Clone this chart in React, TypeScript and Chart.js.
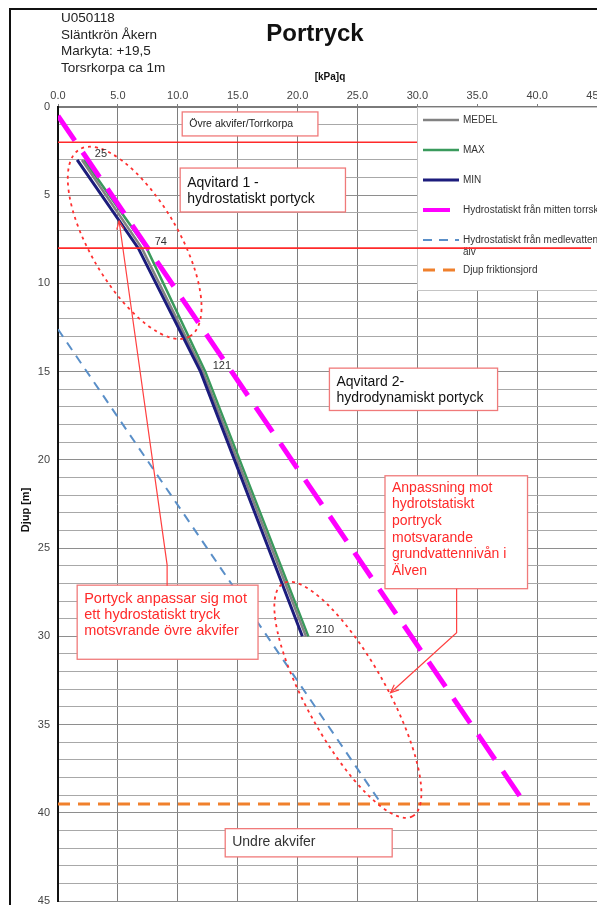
import React, { useEffect, useRef } from "react";
import { Chart, registerables } from "chart.js";

Chart.register(...registerables);

// ---------- data ----------
const depthsM = [3, 8, 15, 30];
const medelKpa = [2.0, 7.0, 12.1, 20.7];
const maxKpa = [2.2, 7.4, 12.3, 20.9];
const minKpa = [1.6, 6.7, 11.9, 20.4];
const pointLabels = ["25", "74", "121", "210"];

const hydroMittenKpa = [0, 39];
const hydroMittenDepth = [0.5, 39.5];
const hydroAlvKpa = [0, 27];
const hydroAlvDepth = [12.6, 39.5];
const friktionKpa = [0, 45];
const friktionDepth = [39.5, 39.5];

const layerBoundaryDepths = [2, 8];

const seriesNames = [
  "MEDEL",
  "MAX",
  "MIN",
  "Hydrostatiskt från mitten torrskorpan",
  "Hydrostatiskt från medlevattennivå i älv",
  "Djup friktionsjord",
];

const headerLines = ["U050118", "Släntkrön Åkern", "Markyta: +19,5", "Torsrkorpa ca 1m"];
const chartTitle = "Portryck";
const xAxisTitle = "[kPa]q";
const yAxisTitle = "Djup [m]";

const noteOvre = ["Övre akvifer/Torrkorpa"];
const noteAqv1 = ["Aqvitard 1 -", "hydrostatiskt portyck"];
const noteAqv2 = ["Aqvitard 2-", "hydrodynamiskt portyck"];
const noteAnpassning = [
  "Anpassning mot",
  "hydrotstatiskt",
  "portryck",
  "motsvarande",
  "grundvattennivån i",
  "Älven",
];
const notePortyck = ["Portyck anpassar sig mot", "ett hydrostatiskt tryck", "motsvrande övre akvifer"];
const noteUndre = ["Undre akvifer"];

// ---------- styling / annotation geometry (in axis units) ----------
const FONT = '"Liberation Sans", Arial, Helvetica, sans-serif';
const RED = "#ff2a2a";

const noteBoxes = [
  { x1: 10.37, y1: 0.28, x2: 21.7, y2: 1.64, lines: noteOvre, color: "#222", size: 10.5, lh: 14, off: 12 },
  { x1: 10.2, y1: 3.46, x2: 24.0, y2: 5.95, lines: noteAqv1, color: "#111", size: 14, lh: 16, off: 15 },
  { x1: 22.66, y1: 14.8, x2: 36.7, y2: 17.2, lines: noteAqv2, color: "#111", size: 14, lh: 16, off: 14 },
  { x1: 27.3, y1: 20.9, x2: 39.2, y2: 27.3, lines: noteAnpassning, color: RED, size: 14, lh: 16.7, off: 12 },
  { x1: 1.6, y1: 27.1, x2: 16.7, y2: 31.3, lines: notePortyck, color: RED, size: 14.5, lh: 16, off: 14 },
  { x1: 13.96, y1: 40.9, x2: 27.9, y2: 42.5, lines: noteUndre, color: "#333", size: 14, lh: 16, off: 13 },
];

const ellipses = [
  { ax: 1.8, ay: 2.4, bx: 11.0, by: 13.0, minor: 44 },
  { ax: 18.8, ay: 27.0, bx: 29.6, by: 40.2, minor: 40 },
];

const arrows = [
  [
    [9.11, 27.14],
    [9.11, 25.95],
    [5.1, 6.46],
  ],
  [
    [33.28, 27.31],
    [33.28, 29.8],
    [27.76, 33.2],
  ],
];

const overlayPlugin = {
  id: "overlay",
  afterDatasetsDraw(chart: any) {
    const ctx: CanvasRenderingContext2D = chart.ctx;
    const xs = chart.scales.x;
    const ys = chart.scales.y;
    const X = (v: number) => xs.getPixelForValue(v);
    const Y = (v: number) => ys.getPixelForValue(v);

    const hline = (depth: number, x0: number, x1: number) => {
      ctx.save();
      ctx.strokeStyle = RED;
      ctx.lineWidth = 1.6;
      ctx.beginPath();
      ctx.moveTo(X(x0), Y(depth));
      ctx.lineTo(X(x1), Y(depth));
      ctx.stroke();
      ctx.restore();
    };

    // upper boundary (under legend)
    hline(layerBoundaryDepths[0], 0, 45);

    // note boxes
    for (const b of noteBoxes) {
      const l = X(b.x1),
        t = Y(b.y1),
        r = X(b.x2),
        bt = Y(b.y2);
      ctx.save();
      ctx.fillStyle = "#fff";
      ctx.fillRect(l, t, r - l, bt - t);
      ctx.strokeStyle = "#f07a7a";
      ctx.lineWidth = 1.3;
      ctx.strokeRect(l, t, r - l, bt - t);
      ctx.fillStyle = b.color;
      ctx.font = `${b.size}px ${FONT}`;
      ctx.textAlign = "left";
      ctx.textBaseline = "middle";
      b.lines.forEach((s, i) => ctx.fillText(s, l + 7, t + b.off + i * b.lh));
      ctx.restore();
    }

    // legend
    const ds = chart.data.datasets;
    const lgL = 409,
      lgT = 99,
      lgB = 282;
    ctx.save();
    ctx.fillStyle = "#fff";
    ctx.fillRect(lgL, lgT, chart.width - lgL + 5, lgB - lgT);
    ctx.strokeStyle = "#c4c4c4";
    ctx.lineWidth = 1;
    ctx.strokeRect(lgL + 0.5, lgT + 0.5, chart.width, lgB - lgT);
    const rows = [112, 142, 172, 202, 232, 262];
    ctx.font = `10px ${FONT}`;
    ctx.textBaseline = "middle";
    seriesNames.forEach((name, i) => {
      const d = ds[i];
      const y = rows[i];
      ctx.save();
      ctx.strokeStyle = d.borderColor;
      ctx.lineWidth = Math.min(d.borderWidth, 4);
      ctx.setLineDash(d.borderDash || []);
      ctx.beginPath();
      ctx.moveTo(415, y);
      ctx.lineTo(i === 3 ? 442 : 451, y);
      ctx.stroke();
      ctx.restore();
      ctx.fillStyle = "#333";
      if (i === 4) {
        ctx.fillText("Hydrostatiskt från medlevattennivå i", 455, y);
        ctx.fillText("älv", 455, y + 12);
      } else {
        ctx.fillText(name, 455, y);
      }
    });
    ctx.restore();

    // lower boundary (over legend)
    hline(layerBoundaryDepths[1], 0, 44.5);

    // dotted ellipses
    ctx.save();
    ctx.strokeStyle = "#ff3030";
    ctx.lineWidth = 1.8;
    ctx.setLineDash([3, 4]);
    for (const e of ellipses) {
      const ax = X(e.ax),
        ay = Y(e.ay),
        bx = X(e.bx),
        by = Y(e.by);
      const cx = (ax + bx) / 2,
        cy = (ay + by) / 2;
      const a = Math.hypot(bx - ax, by - ay) / 2;
      const rot = Math.atan2(by - ay, bx - ax);
      ctx.beginPath();
      ctx.ellipse(cx, cy, a, e.minor, rot, 0, Math.PI * 2);
      ctx.stroke();
    }
    ctx.restore();

    // arrows
    ctx.save();
    ctx.strokeStyle = "#ff4040";
    ctx.lineWidth = 1.2;
    for (const pts of arrows) {
      ctx.beginPath();
      pts.forEach((p, i) => {
        const px = X(p[0]),
          py = Y(p[1]);
        if (i === 0) ctx.moveTo(px, py);
        else ctx.lineTo(px, py);
      });
      ctx.stroke();
      const n = pts.length;
      const tx = X(pts[n - 1][0]),
        ty = Y(pts[n - 1][1]);
      const fx = X(pts[n - 2][0]),
        fy = Y(pts[n - 2][1]);
      const ang = Math.atan2(ty - fy, tx - fx);
      ctx.beginPath();
      ctx.moveTo(tx - 9 * Math.cos(ang - 0.4), ty - 9 * Math.sin(ang - 0.4));
      ctx.lineTo(tx, ty);
      ctx.lineTo(tx - 9 * Math.cos(ang + 0.4), ty - 9 * Math.sin(ang + 0.4));
      ctx.stroke();
    }
    ctx.restore();

    // point labels
    ctx.save();
    ctx.fillStyle = "#333";
    ctx.font = `11px ${FONT}`;
    ctx.textAlign = "center";
    ctx.textBaseline = "middle";
    pointLabels.forEach((lab, i) => {
      ctx.fillText(lab, X(medelKpa[i]) + 19, Y(depthsM[i]) - 6);
    });
    ctx.restore();
  },
  afterDraw(chart: any) {
    const ctx: CanvasRenderingContext2D = chart.ctx;
    ctx.save();
    // frame
    ctx.strokeStyle = "#111";
    ctx.lineWidth = 2;
    ctx.strokeRect(2, 1, chart.width + 20, chart.height + 20);
    // header
    ctx.fillStyle = "#222";
    ctx.font = `13.5px ${FONT}`;
    ctx.textAlign = "left";
    ctx.textBaseline = "middle";
    headerLines.forEach((s, i) => ctx.fillText(s, 53, 10.5 + i * 16.6));
    // title
    ctx.textBaseline = "alphabetic";
    ctx.fillStyle = "#111";
    ctx.font = `bold 24px ${FONT}`;
    ctx.textAlign = "center";
    ctx.fillText(chartTitle, 307, 33);
    // x title
    ctx.font = `bold 10px ${FONT}`;
    ctx.fillText(xAxisTitle, 322, 72);
    // y title
    ctx.translate(18, 502);
    ctx.rotate(-Math.PI / 2);
    ctx.font = `bold 11px ${FONT}`;
    ctx.textBaseline = "middle";
    ctx.fillText(yAxisTitle, 0, 0);
    ctx.restore();
  },
};

const toPoints = (xs: number[], ys: number[]) => xs.map((x, i) => ({ x, y: ys[i] }));

export default function App() {
  const ref = useRef<HTMLCanvasElement>(null);
  useEffect(() => {
    document.documentElement.style.overflow = "hidden";
    document.body.style.overflow = "hidden";
    const common = { showLine: true, pointRadius: 0, pointHoverRadius: 0, fill: false, tension: 0 };
    const chart = new Chart(ref.current as HTMLCanvasElement, {
      type: "scatter",
      data: {
        datasets: [
          { ...common, label: seriesNames[0], data: toPoints(medelKpa, depthsM), borderColor: "#828282", borderWidth: 2.5, order: 3 },
          { ...common, label: seriesNames[1], data: toPoints(maxKpa, depthsM), borderColor: "#3a9a5c", borderWidth: 2.5, order: 4 },
          { ...common, label: seriesNames[2], data: toPoints(minKpa, depthsM), borderColor: "#1c1c7c", borderWidth: 3, order: 2 },
          { ...common, label: seriesNames[3], data: toPoints(hydroMittenKpa, hydroMittenDepth), borderColor: "#ff00ff", borderWidth: 5, borderDash: [30, 14], order: 0 },
          { ...common, label: seriesNames[4], data: toPoints(hydroAlvKpa, hydroAlvDepth), borderColor: "#5a8fc8", borderWidth: 2, borderDash: [9, 7], order: 1 },
          { ...common, label: seriesNames[5], data: toPoints(friktionKpa, friktionDepth), borderColor: "#f0802c", borderWidth: 3, borderDash: [12, 8], order: 1 },
        ] as any,
      },
      options: {
        animation: false,
        responsive: false,
        devicePixelRatio: 1,
        events: [],
        layout: { padding: { left: 0, top: 0, right: 91, bottom: 4 } },
        plugins: { legend: { display: false }, tooltip: { enabled: false }, title: { display: false } },
        scales: {
          x: {
            type: "linear",
            position: "top",
            min: 0,
            max: 45,
            ticks: {
              stepSize: 5,
              autoSkip: false,
              maxRotation: 0,
              padding: 1,
              color: "#444",
              font: { family: FONT, size: 11 },
              callback: (v: any) => Number(v).toFixed(1),
            },
            grid: { color: "#7e7e7e", lineWidth: 1, drawTicks: true, tickLength: 3 },
            border: { color: "#7a7a7a", width: 2 },
            afterFit: (s: any) => {
              s.height = 99;
              s.paddingLeft = 0;
              s.paddingRight = 0;
            },
          },
          y: {
            type: "linear",
            reverse: true,
            min: 0,
            max: 45,
            ticks: {
              stepSize: 1,
              autoSkip: false,
              padding: 8,
              color: "#444",
              font: { family: FONT, size: 11 },
              callback: (v: any) => (Number(v) % 5 === 0 ? String(v) : ""),
            },
            grid: {
              drawTicks: false,
              lineWidth: 1,
              color: (c: any) => (c.tick && c.tick.value % 5 === 0 ? "#8e8e8e" : "#a8a8a8"),
            },
            border: { color: "#111", width: 2 },
            afterFit: (s: any) => {
              s.width = 50;
              s.paddingTop = 0;
              s.paddingBottom = 0;
            },
          },
        },
      } as any,
      plugins: [overlayPlugin],
    });
    return () => chart.destroy();
  }, []);
  return (
    <div style={{ width: 597, height: 897, overflow: "hidden", position: "relative", background: "#fff" }}>
      <canvas ref={ref} width={680} height={897} style={{ display: "block", width: 680, height: 897 }} />
    </div>
  );
}
